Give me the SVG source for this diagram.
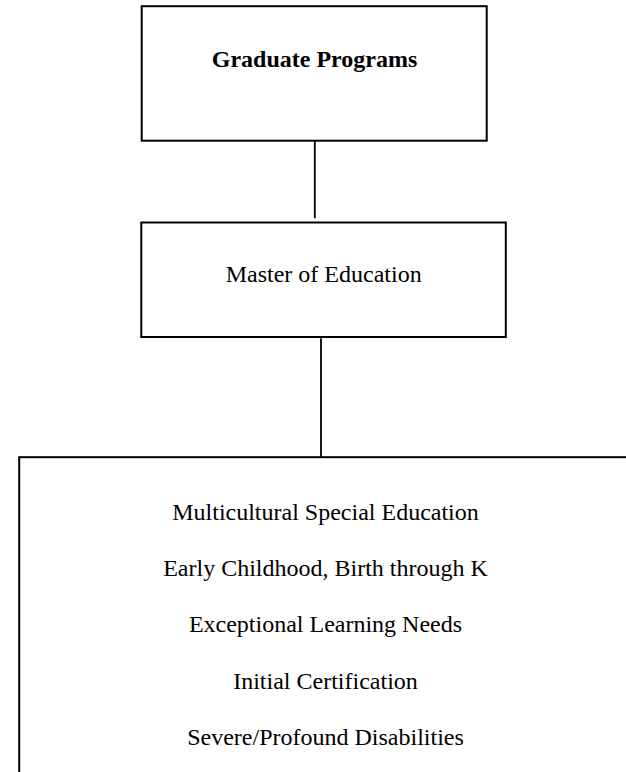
<svg xmlns="http://www.w3.org/2000/svg" width="626" height="772" viewBox="0 0 626 772">
  <style>
    .box { fill: #ffffff; stroke: #000000; stroke-width: 2; }
    .link { stroke: #000000; stroke-width: 1.8; fill: none; }
    .label { font-family: "Liberation Serif", "Times New Roman", serif; font-size: 24px; fill: #000000; text-anchor: middle; }
    .bold { font-weight: bold; }
  </style>
  <rect width="626" height="772" fill="#ffffff"/>

  <!-- connectors -->
  <g id="connectors">
    <line class="link" x1="314.8" y1="141" x2="314.8" y2="218.3"/>
    <line class="link" x1="321" y1="338.3" x2="321" y2="457"/>
  </g>

  <g id="graduate-programs">
    <rect class="box" x="141.7" y="6.2" width="345" height="134.5"/>
    <text class="label bold" x="314.5" y="67">Graduate Programs</text>
  </g>

  <g id="master-of-education">
    <rect class="box" x="141.3" y="222.5" width="364.5" height="114.5"/>
    <text class="label" x="323.7" y="282">Master of Education</text>
  </g>

  <g id="specializations">
    <rect class="box" x="19.2" y="457.2" width="640" height="340"/>
    <text class="label" x="325.5" y="520">Multicultural Special Education</text>
    <text class="label" x="325.5" y="575.5">Early Childhood, Birth through K</text>
    <text class="label" x="325.5" y="632">Exceptional Learning Needs</text>
    <text class="label" x="325.5" y="688.5">Initial Certification</text>
    <text class="label" x="325.5" y="745">Severe/Profound Disabilities</text>
  </g>
</svg>
